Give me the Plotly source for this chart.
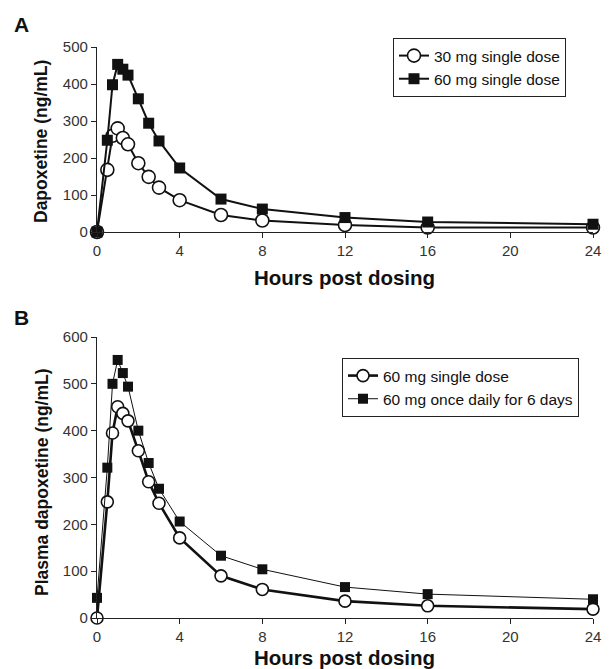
import plotly.graph_objects as go

hours = [0, 0.5, 0.75, 1, 1.25, 1.5, 2, 2.5, 3, 4, 6, 8, 12, 16, 24]
a_30mg_single = [0, 168, 260, 280, 254, 237, 186, 149, 120, 86, 46, 31, 19, 12, 12]
a_60mg_single = [0, 248, 398, 453, 440, 424, 360, 294, 246, 173, 89, 62, 39, 27, 21]
b_60mg_single = [0, 248, 395, 451, 437, 421, 357, 291, 245, 171, 90, 61, 36, 26, 19]
b_60mg_multi = [43, 321, 500, 551, 523, 494, 400, 331, 276, 206, 133, 104, 66, 51, 40]

x_ticks = [0, 4, 8, 12, 16, 20, 24]
a_y_ticks = [0, 100, 200, 300, 400, 500]
b_y_ticks = [0, 100, 200, 300, 400, 500, 600]

FONT = "Liberation Sans, Arial, sans-serif"
OFF = 8  # page body margin
W, H = 612 - OFF, 669 - OFF


def px(p):
    return (p - OFF) / W


def py(p):
    return 1 - (p - OFF) / H


fig = go.Figure()

fig.add_trace(go.Scatter(
    x=hours, y=a_30mg_single, name="30 mg single dose", mode="lines+markers",
    line=dict(color="#111", width=2),
    marker=dict(symbol="circle", size=13, color="white", line=dict(color="#111", width=1.6)),
    xaxis="x", yaxis="y", legend="legend", cliponaxis=False))
fig.add_trace(go.Scatter(
    x=hours, y=a_60mg_single, name="60 mg single dose", mode="lines+markers",
    line=dict(color="#111", width=2),
    marker=dict(symbol="square", size=11, color="#111", line=dict(color="#111", width=0)),
    xaxis="x", yaxis="y", legend="legend", cliponaxis=False))

fig.add_trace(go.Scatter(
    x=hours, y=b_60mg_single, name="60 mg single dose", mode="lines+markers",
    line=dict(color="#111", width=2.6),
    marker=dict(symbol="circle", size=12, color="white", line=dict(color="#111", width=1.6)),
    xaxis="x2", yaxis="y2", legend="legend2", cliponaxis=False))
fig.add_trace(go.Scatter(
    x=hours, y=b_60mg_multi, name="60 mg once daily for 6 days", mode="lines+markers",
    line=dict(color="#111", width=1),
    marker=dict(symbol="square", size=10, color="#111", line=dict(color="#111", width=0)),
    xaxis="x2", yaxis="y2", legend="legend2", cliponaxis=False))

xdom = [px(97), px(593)]
axis_common = dict(showline=True, linecolor="#222", linewidth=1.2, ticks="outside",
                   ticklen=5, tickcolor="#222", showgrid=False, zeroline=False,
                   automargin=False,
                   tickfont=dict(family=FONT, size=15, color="#333"))

leg_common = dict(xanchor="left", yanchor="top", bordercolor="#222", borderwidth=1,
                  bgcolor="white", font=dict(family=FONT, size=15.5, color="#111"),
                  itemwidth=30, tracegroupgap=0)

layout = dict(
    width=W, height=H, margin=dict(l=0, r=0, t=0, b=0, pad=0, autoexpand=False),
    paper_bgcolor="white", plot_bgcolor="white",
    font=dict(family=FONT, color="#111"),
    xaxis=dict(domain=xdom, range=[0, 24], tickvals=x_ticks, anchor="y", **axis_common),
    yaxis=dict(domain=[py(232), py(47)], range=[0, 500], tickvals=a_y_ticks, anchor="x", **axis_common),
    xaxis2=dict(domain=xdom, range=[0, 24], tickvals=x_ticks, anchor="y2", **axis_common),
    yaxis2=dict(domain=[py(618), py(337)], range=[0, 600], tickvals=b_y_ticks, anchor="x2", **axis_common),
    legend=dict(x=px(393), y=py(38), **leg_common),
    legend2=dict(x=px(342), y=py(358), **leg_common),
    showlegend=True,
)
fig.update_layout(**layout)

ann = [
    dict(text="<b>A</b>", x=px(12), y=py(24), xanchor="left", yanchor="middle", font=dict(size=21)),
    dict(text="<b>B</b>", x=px(12), y=py(318), xanchor="left", yanchor="middle", font=dict(size=21)),
    dict(text="<b>Dapoxetine (ng/mL)</b>", x=px(41), y=py(142), textangle=-90,
         xanchor="center", yanchor="middle", font=dict(size=17.5)),
    dict(text="<b>Plasma dapoxetine (ng/mL)</b>", x=px(42), y=py(482), textangle=-90,
         xanchor="center", yanchor="middle", font=dict(size=17.5)),
    dict(text="<b>Hours post dosing</b>", x=px(344), y=py(277), xanchor="center", yanchor="middle",
         font=dict(size=20.5)),
    dict(text="<b>Hours post dosing</b>", x=px(344), y=py(657), xanchor="center", yanchor="middle",
         font=dict(size=20.5)),
]
for a in ann:
    a.update(xref="paper", yref="paper", showarrow=False)
    a["font"] = dict(family=FONT, color="#111", **a["font"])
fig.update_layout(annotations=ann)

fig.write_html("out.html")
